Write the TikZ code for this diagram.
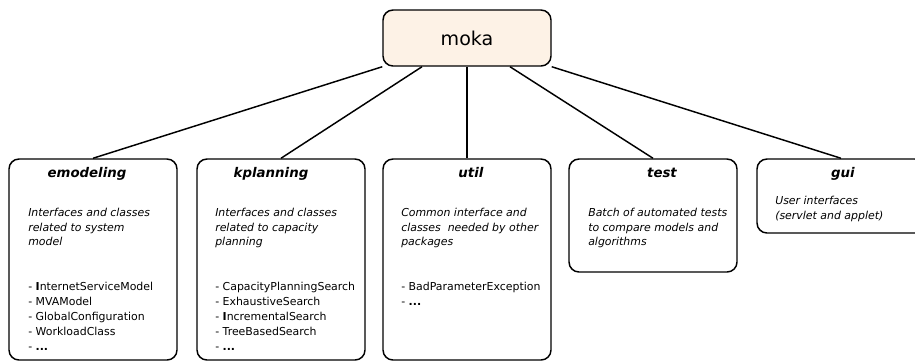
\documentclass[tikz,border=0pt]{standalone}
\usepackage{fontspec}
\setmainfont{DejaVu Sans}
\usepackage{xcolor}
\usetikzlibrary{shapes}
\definecolor{mokafill}{RGB}{253,242,230}

\begin{document}
\begin{tikzpicture}[x=0.75pt, y=-0.75pt] %1 Einheit = 1 Pixel der Vorlage
\tikzstyle{pkg} = [draw, line width=1.1pt, rounded corners=7.5pt, minimum width=126pt, inner sep=0pt]
\tikzstyle{title} = [anchor=base, inner sep=0pt, font=\fontsize{10}{12}\selectfont\bfseries\itshape]
\tikzstyle{desc} = [anchor=north west, inner sep=0pt, align=left, font=\fontsize{8.2}{11}\selectfont\itshape]
\tikzstyle{items} = [anchor=north west, inner sep=0pt, align=left, font=\fontsize{8.2}{11.25}\selectfont]
\useasboundingbox (0,0) rectangle (915,362);
\node[pkg, fill=mokafill, minimum height=42pt, font=\fontsize{14.3}{16}\selectfont] (moka) at (467,38) {moka};
\node[pkg, minimum height=150.75pt] (emodeling) at (93,259.5) {};
\node[pkg, minimum height=150.75pt] (kplanning) at (281,259.5) {};
\node[pkg, minimum height=150.75pt] (util) at (467,259.5) {};
\node[pkg, minimum height=84.75pt] (test) at (653,215.5) {};
\node[pkg, minimum height=55.5pt] (gui) at (841,196) {};
\coordinate (m2) at ([xshift=-33.75pt]moka.south);
\coordinate (m4) at ([xshift=32.25pt]moka.south);
\foreach \from/\to in {moka.south west/emodeling, m2/kplanning, moka.south/util, m4/test, moka.south east/gui}
\draw [line width=1.1pt] (\from) -- (\to.north);
% Texte
\node[title] (emodeling title) at (87,177) {emodeling};
\node[desc] (emodeling desc) at (28,208) {Interfaces and classes\\related to system\\model};
\node[items] (emodeling items) at (28,282) {- \textbf{I}nternetServiceModel\\- MVAModel\\- GlobalConfiguration\\- WorkloadClass\\- \textbf{...}};
\node[title] (kplanning title) at (271,177) {kplanning};
\node[desc] (kplanning desc) at (215,208) {Interfaces and classes\\related to capacity\\planning};
\node[items] (kplanning items) at (215,282) {- CapacityPlanningSearch\\- ExhaustiveSearch\\- \textbf{I}ncrementalSearch\\- TreeBasedSearch\\- \textbf{...}};
\node[title] (util title) at (471,177) {util};
\node[desc] (util desc) at (401,208) {Common interface and\\classes\ \ needed by other\\packages};
\node[items] (util items) at (401,282) {- BadParameterException\\- \textbf{...}};
\node[title] (test title) at (662,177) {test};
\node[desc] (test desc) at (588,208) {Batch of automated tests\\to compare models and\\algorithms};
\node[title] (gui title) at (843,177) {gui};
\node[desc] (gui desc) at (775,196) {User interfaces\\(servlet and applet)};
\end{tikzpicture}
\end{document}
